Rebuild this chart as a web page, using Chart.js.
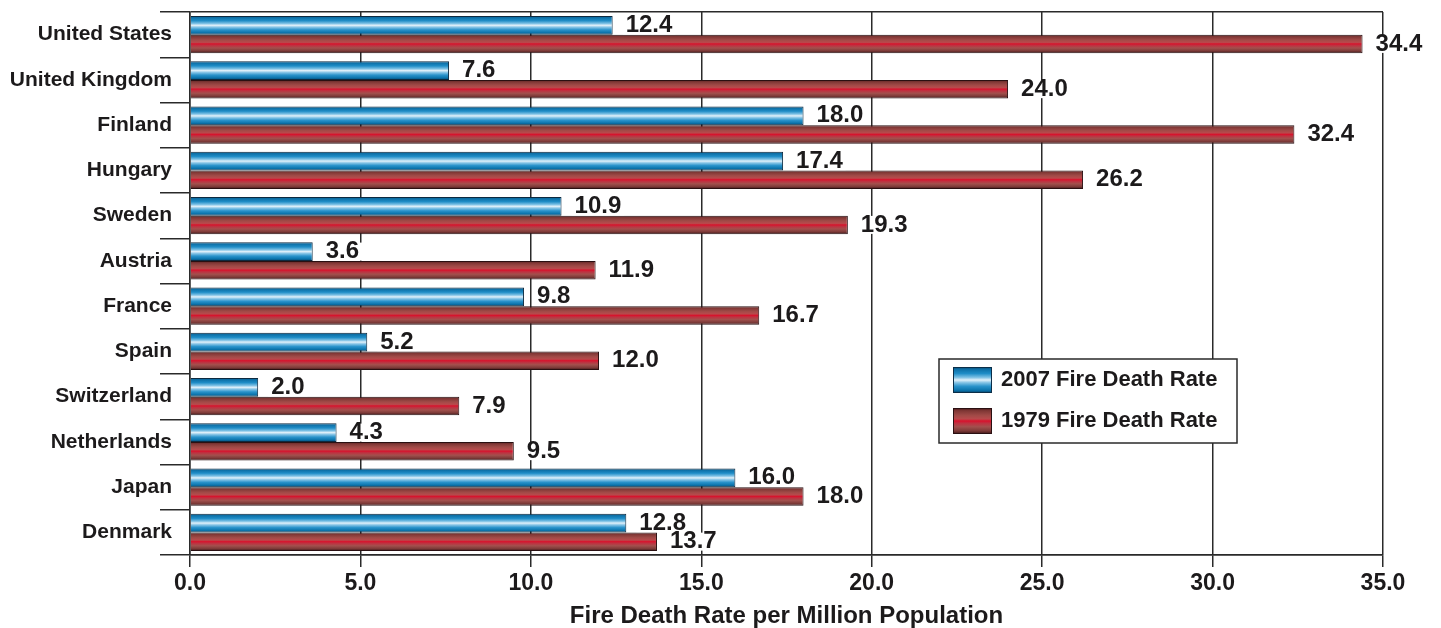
<!DOCTYPE html>
<html>
<head>
<meta charset="utf-8">
<title>Fire Death Rate per Million Population</title>
<script src="https://cdn.jsdelivr.net/npm/chart.js@4.4.1/dist/chart.umd.min.js"></script>
<style>
  html, body { margin: 0; padding: 0; background: #ffffff; }
  #wrap { width: 1441px; height: 628px; }
</style>
</head>
<body>
<div id="wrap"><canvas id="chart" width="1441" height="628"></canvas></div>
<script>
// ---- data ----
const countries = [
  'United States', 'United Kingdom', 'Finland', 'Hungary', 'Sweden', 'Austria',
  'France', 'Spain', 'Switzerland', 'Netherlands', 'Japan', 'Denmark'
];
const rate2007 = [12.4, 7.6, 18.0, 17.4, 10.9, 3.6, 9.8, 5.2, 2.0, 4.3, 16.0, 12.8];
const rate1979 = [34.4, 24.0, 32.4, 26.2, 19.3, 11.9, 16.7, 12.0, 7.9, 9.5, 18.0, 13.7];
const seriesNames = ['2007 Fire Death Rate', '1979 Fire Death Rate'];
const xMin = 0, xMax = 35, xStep = 5;
const xTitle = 'Fire Death Rate per Million Population';

// ---- styling ----
const FONT = '"Liberation Sans", Arial, sans-serif';
const INK = '#1c1a1b';
const RULE = '#2a2a2a';
const CAT_PCT = 0.82;

// tube-like shading across each bar, top to bottom
const blueStops = [
  [0.00, '#0a3f63'], [0.08, '#0c6ea5'], [0.25, '#1f8dc7'], [0.40, '#7cc0e4'],
  [0.50, '#e2f1fa'], [0.60, '#86c4e6'], [0.74, '#2a93cb'], [0.90, '#0a72aa'],
  [1.00, '#083e62']
];
const redStops = [
  [0.00, '#3e1517'], [0.10, '#7e3634'], [0.28, '#a04a47'], [0.42, '#b84a4c'],
  [0.50, '#d8122c'], [0.58, '#c03040'], [0.72, '#a2504d'], [0.88, '#7c3a38'],
  [1.00, '#3a1416']
];
const seriesStops = [blueStops, redStops];

function applyStops(g, stops) {
  stops.forEach(([o, c]) => g.addColorStop(o, c));
  return g;
}

// gradient spanning the bar's own thickness, taken from the category scale
function barFill(stops) {
  return (c) => {
    const chart = c.chart;
    const yScale = chart.scales && chart.scales.y;
    if (!chart.chartArea || !yScale || c.dataIndex === undefined) {
      return stops[Math.floor(stops.length / 2)][1];
    }
    const center = yScale.getPixelForValue(c.dataIndex);
    const band = (yScale.bottom - yScale.top) / countries.length;
    const thick = band * CAT_PCT / 2;
    const top = c.datasetIndex === 0 ? center - thick : center;
    return applyStops(chart.ctx.createLinearGradient(0, top, 0, top + thick), stops);
  };
}

// value printed just past the end of every bar, on a white chip
const valueLabels = {
  id: 'valueLabels',
  afterDatasetsDraw(chart) {
    const ctx = chart.ctx;
    ctx.save();
    ctx.font = 'bold 24px ' + FONT;
    ctx.textAlign = 'left';
    ctx.textBaseline = 'middle';
    chart.data.datasets.forEach((ds, di) => {
      chart.getDatasetMeta(di).data.forEach((bar, i) => {
        const txt = ds.data[i].toFixed(1);
        const w = ctx.measureText(txt).width;
        const x = bar.x + 13;
        const y = bar.y;
        ctx.fillStyle = '#ffffff';
        ctx.fillRect(x - 3, y - 9, w + 6, 18);
        ctx.fillStyle = INK;
        ctx.fillText(txt, x, y);
      });
    });
    ctx.restore();
  }
};

// boxed legend sitting inside the plot, lower right
const boxLegend = {
  id: 'boxLegend',
  afterDraw(chart) {
    const ctx = chart.ctx;
    const area = chart.chartArea;
    const left = area.right - 444, top = area.top + 347, w = 298, h = 84;
    ctx.save();
    ctx.fillStyle = '#ffffff';
    ctx.fillRect(left, top, w, h);
    ctx.strokeStyle = RULE;
    ctx.lineWidth = 1.5;
    ctx.strokeRect(left, top, w, h);
    ctx.font = 'bold 22px ' + FONT;
    ctx.textAlign = 'left';
    ctx.textBaseline = 'middle';
    chart.data.datasets.forEach((ds, i) => {
      const sy = top + 8 + i * 41;
      const sx = left + 14;
      ctx.fillStyle = applyStops(ctx.createLinearGradient(0, sy, 0, sy + 26), seriesStops[i]);
      ctx.fillRect(sx, sy, 39, 26);
      ctx.strokeStyle = i === 0 ? '#0b2e48' : '#2a1012';
      ctx.lineWidth = 1;
      ctx.strokeRect(sx + 0.5, sy + 0.5, 38, 25);
      ctx.fillStyle = INK;
      ctx.fillText(ds.label, left + 62, sy + 13);
    });
    ctx.restore();
  }
};

new Chart(document.getElementById('chart'), {
  type: 'bar',
  data: {
    labels: countries,
    datasets: [
      {
        label: seriesNames[0],
        data: rate2007,
        backgroundColor: barFill(blueStops),
        borderColor: '#0d2a40',
        borderWidth: 1,
        barPercentage: 1,
        categoryPercentage: CAT_PCT
      },
      {
        label: seriesNames[1],
        data: rate1979,
        backgroundColor: barFill(redStops),
        borderColor: '#2a1012',
        borderWidth: 1,
        barPercentage: 1,
        categoryPercentage: CAT_PCT
      }
    ]
  },
  options: {
    indexAxis: 'y',
    responsive: false,
    animation: false,
    devicePixelRatio: 1,
    layout: { padding: { top: 12, right: 58, left: 0, bottom: 0 } },
    plugins: {
      legend: { display: false },
      tooltip: { enabled: false },
      title: { display: false }
    },
    scales: {
      x: {
        type: 'linear',
        position: 'bottom',
        min: xMin,
        max: xMax,
        afterFit(scale) { scale.height = 73; },
        ticks: {
          stepSize: xStep,
          callback: (v) => Number(v).toFixed(1),
          color: INK,
          font: { family: FONT, size: 23, weight: 'bold' },
          padding: 3,
          maxRotation: 0
        },
        grid: {
          color: RULE,
          lineWidth: 1.5,
          tickLength: 12,
          tickColor: RULE,
          drawOnChartArea: true
        },
        border: { display: true, color: RULE, width: 1.5 },
        title: {
          display: true,
          text: xTitle,
          color: INK,
          font: { family: FONT, size: 24, weight: 'bold', lineHeight: 1 },
          padding: { top: 0, bottom: 0 }
        }
      },
      y: {
        type: 'category',
        afterFit(scale) { scale.width = 190; },
        ticks: {
          color: INK,
          font: { family: FONT, size: 21, weight: 'bold' },
          padding: -12
        },
        grid: {
          offset: true,
          // only the top edge runs across the plot; the rest are short ticks
          color: (c) => (c.type !== 'tick' || c.index === 0) ? RULE : 'rgba(0,0,0,0)',
          lineWidth: 1.5,
          tickLength: 30,
          tickColor: RULE,
          drawTicks: true
        },
        border: { display: true, color: RULE, width: 1.5 }
      }
    }
  },
  plugins: [valueLabels, boxLegend]
});
</script>
</body>
</html>
